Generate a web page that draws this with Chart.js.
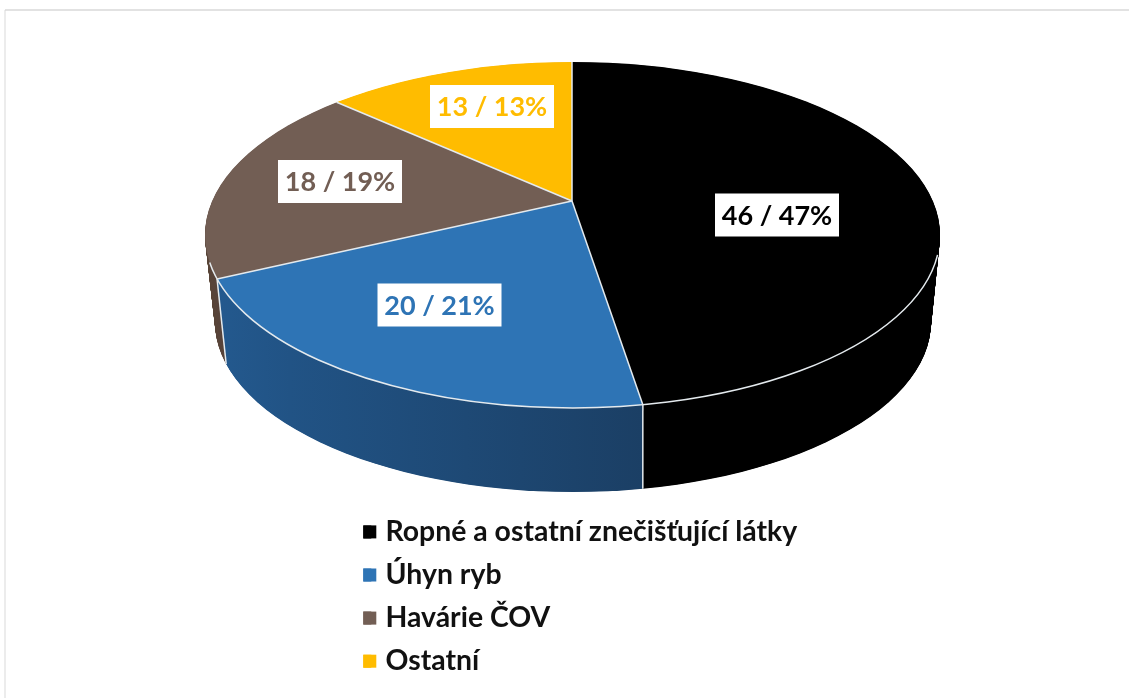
<!DOCTYPE html>
<html><head><meta charset="utf-8">
<style>html,body{margin:0;padding:0;background:#fff}canvas{display:block;filter:blur(0.45px)}</style>
<script src="https://cdn.jsdelivr.net/npm/chart.js@4/dist/chart.umd.min.js"></script>
</head><body>
<div style="width:1129px;height:698px;overflow:hidden"><canvas id="c" width="1129" height="698"></canvas></div>
<script>
const categories = ['Ropné a ostatní znečišťující látky', 'Úhyn ryb', 'Havárie ČOV', 'Ostatní'];
const counts = [46, 20, 18, 13];
const percents = [47, 21, 19, 13];
const sliceColors = ['#000000', '#2E74B5', '#725E54', '#FFBC00'];

// Perspective look of the disc
const FONT = 'Lato, "Open Sans", sans-serif';
const SX = 1.596, SY = 0.75;
const topDisc = {cx: 572.5, cy: 235, rx: 367.5, ry: 173, ax: 572, ay: 201};
const botDisc = {cx: 573, cy: 322, rx: 358, ry: 170, ax: 573, ay: 288};
const labelCenters = [[777, 215], [439.5, 305], [340, 181.5], [492, 106.5]];
const LAYERS = 180;
const KEY_SIZE = 13;
const LEGEND_PADDING = 14.7;

function lerpDisc(t) {
  const o = {};
  for (const k in topDisc) o[k] = topDisc[k] + (botDisc[k] - topDisc[k]) * t;
  return o;
}
function ellipsePath(ctx, d) {
  ctx.beginPath();
  ctx.ellipse(d.cx, d.cy, d.rx, d.ry, 0, 0, Math.PI * 2);
}
function applyDisc(ctx, d, el) {
  ctx.translate(d.ax, d.ay);
  ctx.scale(SX, SY);
  ctx.translate(-el.x, -el.y);
}
function rimPoint(d, angle) {
  const ux = Math.cos(angle) * SX, uy = Math.sin(angle) * SY;
  const px = (d.ax - d.cx) / d.rx, py = (d.ay - d.cy) / d.ry;
  const qx = ux / d.rx, qy = uy / d.ry;
  const a = qx * qx + qy * qy, b = 2 * (px * qx + py * qy), c = px * px + py * py - 1;
  const s = (-b + Math.sqrt(b * b - 4 * a * c)) / (2 * a);
  return [d.ax + ux * s, d.ay + uy * s];
}
function wallStyle(ctx, color) {
  if (color === '#2E74B5') {
    const g = ctx.createLinearGradient(218, 0, 642, 0);
    g.addColorStop(0, '#2A69A6'); g.addColorStop(0.4, '#215385'); g.addColorStop(1, '#1A3C60');
    return g;
  }
  if (color === '#725E54') return '#5A473C';
  if (color === '#FFBC00') return '#B58600';
  return '#000000';
}
const disc3d = {
  id: 'disc3d',
  beforeDraw(chart) {
    const ctx = chart.ctx;
    ctx.save();
    ctx.strokeStyle = '#E6E6E6'; ctx.lineWidth = 1.5;
    ctx.beginPath(); ctx.moveTo(5, 698); ctx.lineTo(5, 10); ctx.stroke();
    ctx.strokeStyle = '#D9D9D9';
    ctx.beginPath(); ctx.moveTo(5, 10); ctx.lineTo(1129, 10); ctx.stroke();
    ctx.restore();
    const lg = chart.legend;
    lg.left = 348.6; lg.right = 900; lg.top = 503; lg.bottom = 720;
    lg.adjustHitBoxes();
  },
  beforeDatasetsDraw(chart) {
    const ctx = chart.ctx, arcs = chart.getDatasetMeta(0).data;
    // side wall
    for (let k = LAYERS; k >= 1; k--) {
      const d = lerpDisc(k / LAYERS);
      ctx.save();
      ellipsePath(ctx, d); ctx.clip();
      applyDisc(ctx, d, arcs[0]);
      arcs.forEach((el, i) => {
        const o = el.options, w = Object.create(o);
        Object.defineProperty(w, 'backgroundColor', {value: wallStyle(ctx, sliceColors[i])});
        el.options = w; el.draw(ctx); el.options = o;
      });
      ctx.restore();
    }
    // top face: the library draws the arcs inside this transform
    ctx.save();
    ellipsePath(ctx, topDisc); ctx.clip();
    applyDisc(ctx, topDisc, arcs[0]);
  },
  afterDatasetsDraw(chart) {
    const ctx = chart.ctx, arcs = chart.getDatasetMeta(0).data;
    ctx.restore();
    ctx.save();
    ctx.strokeStyle = '#E4EAEE'; ctx.lineWidth = 1.5;
    ctx.beginPath();
    ctx.ellipse(topDisc.cx, topDisc.cy, topDisc.rx, topDisc.ry, 0, 0.115, Math.PI - 0.16);
    ctx.stroke();
    arcs.forEach(el => {
      const p = rimPoint(topDisc, el.startAngle);
      ctx.beginPath(); ctx.moveTo(topDisc.ax, topDisc.ay); ctx.lineTo(p[0], p[1]); ctx.stroke();
      if (p[1] > topDisc.cy + 10) {
        const q = rimPoint(botDisc, el.startAngle);
        ctx.beginPath(); ctx.moveTo(p[0], p[1]); ctx.lineTo(q[0], q[1]); ctx.stroke();
      }
    });
    // value labels
    ctx.font = 'bold 27px ' + FONT;
    ctx.textAlign = 'center'; ctx.textBaseline = 'middle';
    counts.forEach((n, i) => {
      const [x, y] = labelCenters[i];
      ctx.fillStyle = '#FFFFFF';
      ctx.fillRect(x - 62, y - 21.5, 124, 43);
      ctx.fillStyle = sliceColors[i];
      ctx.fillText(n + ' / ' + percents[i] + '%', x, y + 1);
    });
    ctx.restore();
  },
  afterDraw(chart) {
    // the legend keys are squares slightly wider than the library's text gap allows
    const ctx = chart.ctx, lg = chart.legend;
    ctx.save();
    lg.legendHitBoxes.forEach((b, i) => {
      const h = b.height, y = b.top + (h - KEY_SIZE) / 2;
      ctx.fillStyle = sliceColors[i];
      ctx.fillRect(lg.left + LEGEND_PADDING, y, KEY_SIZE, KEY_SIZE);
    });
    ctx.restore();
  }
};
new Chart(document.getElementById('c'), {
  type: 'pie',
  data: {labels: categories, datasets: [{data: counts, backgroundColor: sliceColors, borderWidth: 0}]},
  options: {
    responsive: false, animation: false,
    layout: {padding: 0},
    plugins: {
      tooltip: {enabled: false},
      legend: {
        position: 'chartArea', align: 'start',
        labels: {
          boxWidth: 8, boxHeight: 13, padding: LEGEND_PADDING,
          color: '#111111',
          font: {family: FONT, size: 28.4, weight: 'bold'}
        }
      }
    }
  },
  plugins: [disc3d]
});
</script>
</body></html>
